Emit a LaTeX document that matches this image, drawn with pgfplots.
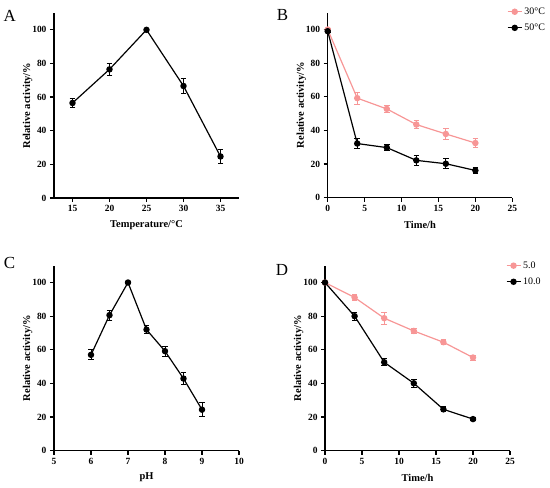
\documentclass[border=0pt]{standalone}
\usepackage{fontspec}
\setmainfont{Liberation Serif}
\usepackage{pgfplots}
\pgfplotsset{compat=1.18}
\definecolor{pinkc}{RGB}{247,150,150}
\pgfplotsset{
  myax/.style={
    scale only axis, width=185bp, height=185bp,
    anchor=south west,
    axis x line=bottom, axis y line=left,
    axis line style={-, line width=1.5bp},
    tick style={line width=1.3bp, black},
    tick align=outside, major tick length=4bp,
    ymin=0, ymax=110, ytick={0,20,40,60,80,100},
    clip=false,
    /pgf/number format/assume math mode=true,
    ticklabel style={font=\bfseries\fontsize{9.5}{11}\selectfont},
    label style={font=\bfseries\fontsize{10.5}{12}\selectfont},
    xlabel style={at={(axis description cs:0.5,-0.145)}, anchor=center},
    ylabel style={at={(axis description cs:-0.142,0.5)}, anchor=center},
    ylabel={Relative activity/\%},
    legend style={draw=none, fill=none, inner sep=0pt, row sep=4bp,
      font=\fontsize{10}{11}\selectfont, cells={anchor=west}, anchor=north west},
    legend image code/.code={\draw[mark repeat=2,mark phase=2,#1] plot coordinates {(0bp,0bp)(7bp,0bp)(14bp,0bp)};},
  },
  bl/.style={black, line width=1.2bp, mark=*, mark size=2.6bp, mark options={solid, fill=black},
    error bars/.cd, y dir=both, y explicit, error mark options={rotate=90, mark size=2.8bp, line width=0.9bp}, error bar style={line width=0.9bp}},
  pk/.style={pinkc, line width=1.2bp, mark=*, mark size=2.6bp, mark options={solid, fill=pinkc},
    error bars/.cd, y dir=both, y explicit, error mark options={rotate=90, mark size=2.8bp, line width=0.9bp, pinkc}, error bar style={line width=0.9bp, pinkc}},
}
\begin{document}
\begin{tikzpicture}
\useasboundingbox (0bp,0bp) rectangle (550bp,-488bp);
% A
\begin{axis}[myax, at={(54bp,-198bp)}, xmin=12.5, xmax=37.5, xtick={15,20,25,30,35},
  xlabel={Temperature/°C}]
\addplot+[bl] coordinates {(15,56.5) +- (0,2.8) (20,76.5) +- (0,3.5) (25,100) +- (0,0.5) (30,66.6) +- (0,4.2) (35,24.7) +- (0,4.2)};
\end{axis}
% B
\begin{axis}[myax, at={(327.7bp,-197.7bp)}, width=184.6bp, xmin=0, xmax=25, xtick={0,5,10,15,20,25},
  xlabel={Time/h}, legend style={at={(axis description cs:0.971,1.039)}}]
\addplot+[pk] coordinates {(0,100) +- (0,0.5) (4,59.2) +- (0,3.5) (8,52.8) +- (0,2) (12,43.5) +- (0,2.5) (16,37.9) +- (0,3) (20,32.5) +- (0,2.5)};
\addlegendentry{30°C}
\addplot+[bl] coordinates {(0,99) +- (0,0.5) (4,32.2) +- (0,3) (8,29.8) +- (0,2) (12,22.2) +- (0,3) (16,20.2) +- (0,3) (20,16.2) +- (0,1.5)};
\addlegendentry{50°C}
\end{axis}
% C
\begin{axis}[myax, at={(54bp,-450.7bp)}, xmin=5, xmax=10, xtick={5,6,7,8,9,10},
  xlabel={pH}]
\addplot+[bl] coordinates {(6,57.0) +- (0,3) (6.5,80.6) +- (0,3) (7,100) +- (0,0.5) (7.5,72.0) +- (0,2.5) (8,59.2) +- (0,3) (8.5,42.9) +- (0,3.5) (9,24.4) +- (0,4)};
\end{axis}
% D
\begin{axis}[myax, at={(325bp,-450.7bp)}, xmin=0, xmax=25, xtick={0,5,10,15,20,25},
  xlabel={Time/h}, legend style={at={(axis description cs:0.977,1.034)}}]
\addplot+[pk] coordinates {(0,100) +- (0,0.5) (4,91.1) +- (0,2) (8,78.8) +- (0,3.5) (12,71.2) +- (0,1.5) (16,64.5) +- (0,1.5) (20,55.4) +- (0,1.5)};
\addlegendentry{5.0}
\addplot+[bl] coordinates {(0,100) +- (0,0.5) (4,80.0) +- (0,2.5) (8,52.6) +- (0,2) (12,40.1) +- (0,2.5) (16,24.6) +- (0,1.5) (20,18.8) +- (0,1)};
\addlegendentry{10.0}
\end{axis}
\node[font=\fontsize{17}{20}\selectfont] at (9.7bp,-16.3bp) {A};
\node[font=\fontsize{17}{20}\selectfont] at (282.5bp,-15bp) {B};
\node[font=\fontsize{17}{20}\selectfont] at (9.5bp,-262.5bp) {C};
\node[font=\fontsize{17}{20}\selectfont] at (282bp,-270bp) {D};
\end{tikzpicture}
\end{document}
